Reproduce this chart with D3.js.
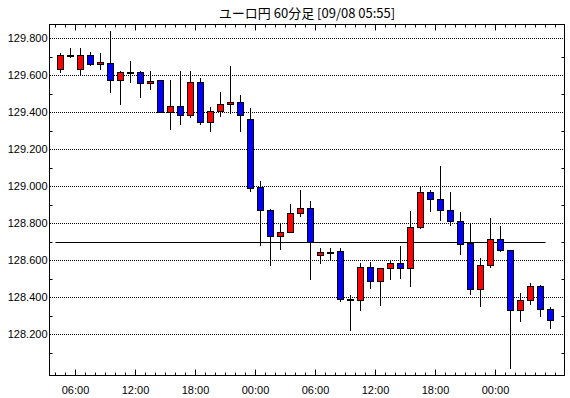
<!DOCTYPE html>
<html><head><meta charset="utf-8">
<script src="https://cdn.jsdelivr.net/npm/d3@7"></script>
<style>
body{margin:0;background:#fff;}
svg{display:block;}
</style></head>
<body>
<svg id="chart" width="570" height="398"></svg>
<script>
// ---- data ----
const title = "ユーロ円 60分足 [09/08 05:55]";
// hour index 0 = 04:00 of first day; one candle per hour
const hourIndex = d3.range(50);
const opens  = [129.632,129.706,129.632,129.710,129.659,129.665,129.573,129.616,129.616,129.557,
                129.573,129.400,129.432,129.384,129.562,129.346,129.405,129.443,129.454,129.362,
                128.995,128.870,128.730,128.752,128.854,128.881,128.625,128.645,128.649,128.387,
                128.384,128.562,128.485,128.557,128.586,128.557,128.778,128.968,128.930,128.872,
                128.811,128.692,128.443,128.573,128.714,128.654,128.330,128.384,128.459,128.335];
const highs  = [129.721,129.751,129.748,129.726,129.721,129.838,129.622,129.676,129.627,129.627,
                129.578,129.573,129.622,129.622,129.589,129.432,129.510,129.650,129.492,129.427,
                129.029,128.881,128.800,128.905,128.983,128.919,128.670,128.670,128.670,128.416,
                128.586,128.591,128.557,128.596,128.677,128.867,128.999,128.981,129.110,128.968,
                128.860,128.800,128.611,128.832,128.784,128.659,128.422,128.477,128.470,128.346];
const lows   = [129.614,129.697,129.600,129.654,129.632,129.503,129.438,129.562,129.476,129.524,
                129.395,129.308,129.330,129.368,129.335,129.297,129.376,129.393,129.297,128.971,
                128.679,128.571,128.658,128.796,128.836,128.495,128.582,128.600,128.377,128.220,
                128.328,128.445,128.353,128.494,128.499,128.458,128.768,128.863,128.815,128.788,
                128.630,128.414,128.351,128.560,128.645,128.016,128.268,128.362,128.295,128.231];
const closes = [129.710,129.706,129.710,129.659,129.670,129.573,129.616,129.616,129.557,129.568,
                129.400,129.432,129.384,129.562,129.346,129.405,129.443,129.454,129.384,128.989,
                128.870,128.730,128.752,128.854,128.881,128.697,128.643,128.645,128.389,128.387,
                128.562,128.485,128.557,128.586,128.557,128.778,128.968,128.930,128.870,128.811,
                128.686,128.443,128.573,128.714,128.654,128.330,128.384,128.459,128.335,128.276];
const refLevel = 128.697;
const yTickValues = [128.2,128.4,128.6,128.8,129.0,129.2,129.4,129.6,129.8];
const yMinorValues = [128.1,128.3,128.5,128.7,128.9,129.1,129.3,129.5,129.7];
const xLabelHours = [2,8,14,20,26,32,38,44];
const xLabels = ["06:00","12:00","18:00","00:00","06:00","12:00","18:00","00:00"];

// ---- layout ----
const L = 49.5, R = 564.5, T = 24.5, B = 375.5;
const x = d3.scaleLinear().domain([-0.6, 50.9]).range([L, R]);
const y = d3.scaleLinear().domain([127.9784, 129.8757]).range([B, T]);
const crisp = v => Math.round(v - 0.5) + 0.5;

const svg = d3.select("#chart");
const fontAx = "'Liberation Sans', Arial, sans-serif";

svg.append("text").attr("x", 307).attr("y", 18).attr("text-anchor","middle")
  .attr("font-family","'Noto Sans CJK JP', sans-serif").attr("font-size",13).attr("fill","#000")
  .text(title);

// gridlines (dotted, pixel aligned)
svg.append("g").selectAll("line").data(yTickValues).join("line")
  .attr("x1", L + 0.5).attr("x2", R - 0.5)
  .attr("y1", d => crisp(y(d))).attr("y2", d => crisp(y(d)))
  .attr("stroke","#000").attr("stroke-width",1).attr("stroke-dasharray","1,1")
  .attr("shape-rendering","crispEdges");

// y labels
svg.append("g").selectAll("text").data(yTickValues).join("text")
  .attr("x", 47.5).attr("y", d => crisp(y(d))).attr("dy","0.35em")
  .attr("text-anchor","end").attr("font-family",fontAx).attr("font-size",11).attr("fill","#000")
  .text(d => d3.format(".3f")(d));

// minor y ticks on both sides (inward)
const yt = svg.append("g").attr("stroke","#000").attr("stroke-width",1);
yt.selectAll("line.l").data(yMinorValues).join("line").attr("class","l")
  .attr("x1", L).attr("x2", L+3).attr("y1", d=>crisp(y(d))).attr("y2", d=>crisp(y(d)));
yt.selectAll("line.r").data(yMinorValues).join("line").attr("class","r")
  .attr("x1", R-3).attr("x2", R).attr("y1", d=>crisp(y(d))).attr("y2", d=>crisp(y(d)));

// x ticks (hourly minor, 6-hourly major), top and bottom, inward
const hourTicks = d3.range(0, 51);
const isMajor = h => xLabelHours.includes(h);
const xt = svg.append("g").attr("stroke","#000").attr("stroke-width",1);
xt.selectAll("line.b").data(hourTicks).join("line").attr("class","b")
  .attr("x1", d=>x(d)).attr("x2", d=>x(d)).attr("y1", B).attr("y2", d => B - (isMajor(d)?6:3));
xt.selectAll("line.t").data(hourTicks).join("line").attr("class","t")
  .attr("x1", d=>x(d)).attr("x2", d=>x(d)).attr("y1", T).attr("y2", d => T + (isMajor(d)?6:3));

svg.append("g").selectAll("text").data(xLabelHours).join("text")
  .attr("x", d => x(d)).attr("y", 394).attr("text-anchor","middle")
  .attr("font-family",fontAx).attr("font-size",11).attr("fill","#000")
  .text((d,i) => xLabels[i]);

// reference line
svg.append("line").attr("x1", x(0)).attr("x2", x(49))
  .attr("y1", crisp(y(refLevel))).attr("y2", crisp(y(refLevel)))
  .attr("stroke","#000").attr("stroke-width",1);

// candles
const candles = hourIndex.map(i => ({i, o:opens[i], h:highs[i], l:lows[i], c:closes[i]}));
const cg = svg.append("g");
cg.selectAll("line").data(candles).join("line")
  .attr("x1", d => x(d.i+0.5)).attr("x2", d => x(d.i+0.5))
  .attr("y1", d => Math.round(y(d.h))).attr("y2", d => Math.round(y(d.l)))
  .attr("stroke","#000").attr("stroke-width",1);
cg.selectAll("rect").data(candles).join("rect")
  .attr("x", d => x(d.i+0.5) - 3).attr("width", 6)
  .attr("y", d => crisp(y(Math.max(d.o,d.c))))
  .attr("height", d => Math.max(1, crisp(y(Math.min(d.o,d.c))) - crisp(y(Math.max(d.o,d.c)))))
  .attr("fill", d => d.c > d.o ? "#ff0000" : (d.c < d.o ? "#0000ff" : "#000"))
  .attr("stroke","#000").attr("stroke-width",1);

// frame
svg.append("rect").attr("x", L).attr("y", T).attr("width", R-L).attr("height", B-T)
  .attr("fill","none").attr("stroke","#000").attr("stroke-width",1);
</script>
</body></html>
